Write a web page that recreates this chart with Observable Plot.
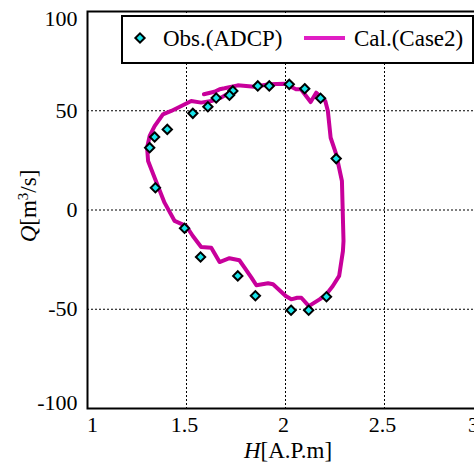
<!DOCTYPE html>
<html>
<head>
<meta charset="utf-8">
<script src="https://cdn.jsdelivr.net/npm/d3@7"></script>
<script src="https://cdn.jsdelivr.net/npm/@observablehq/plot@0.6"></script>
<style>
  html, body { margin: 0; padding: 0; background: white; overflow: hidden; }
  #chart { width: 474px; height: 466px; overflow: hidden; }
  #chart svg, #chart svg text { font-family: "Liberation Serif", "Times New Roman", serif !important; }
</style>
</head>
<body>
<div id="chart"></div>
<script>
// Observed (ADCP) points: water level H [A.P.m], discharge Q [m3/s]
const obsH = [1.314, 1.339, 1.403, 1.343, 1.490, 1.571, 1.759, 1.848, 2.028, 2.117, 2.207,
              2.256, 2.177, 2.097, 2.019, 1.918, 1.860, 1.734, 1.717, 1.650, 1.608, 1.532];
const obsQ = [31.4, 36.8, 40.6, 11.2, -9.2, -23.7, -33.2, -43.2, -50.5, -50.5, -43.7,
              25.9, 56.3, 61.1, 63.3, 62.5, 62.5, 60.0, 57.8, 56.4, 52.0, 48.7];

// Calculated (Case2) loop, in time order
const calH = [1.588, 1.641, 1.667, 1.692, 1.759, 1.801, 1.843, 1.917, 1.996, 2.053, 2.078,
              2.127, 2.155, 2.201, 2.214, 2.228, 2.256, 2.285, 2.293, 2.290, 2.271, 2.239,
              2.206, 2.172, 2.118, 2.080, 2.059, 2.029, 2.001, 1.937, 1.912, 1.853, 1.828,
              1.794, 1.767, 1.717, 1.667, 1.625, 1.574, 1.532, 1.499, 1.440, 1.389, 1.339,
              1.306, 1.301, 1.314, 1.339, 1.381, 1.423, 1.474, 1.524, 1.574, 1.625, 1.675, 1.725];
const calQ = [58.3, 59.6, 60.8, 61.3, 62.8, 62.5, 62.1, 63.3, 63.6, 60.8, 60.8,
              54.4, 59.1, 54.9, 49.9, 36.4, 28.1, 14.6, -15.6, -20.7, -33.2, -38.3,
              -42.5, -45.0, -48.4, -44.2, -44.2, -45.0, -43.3, -37.4, -36.9, -37.9, -34.1,
              -29.1, -25.3, -24.3, -26.2, -19.0, -18.6, -13.1, -8.1, -5.5, 3.7, 16.3,
              24.7, 31.4, 37.3, 42.3, 48.2, 49.9, 52.4, 54.9, 54.1, 54.9, 56.6, 59.6];

const xGrid = [1.5, 2, 2.5];
const yGrid = [-50, 0, 50];
const xTickMid = [1.5, 2, 2.5];
const yTickMid = [-50, 0, 50];

const seriesNames = ["Obs.(ADCP)", "Cal.(Case2)"];
const obsFill = "#18e4ea";
const calColor = "#c8009b";

const obs = obsH.map((h, i) => ({H: h, Q: obsQ[i]}));
const cal = calH.map((h, i) => ({H: h, Q: calQ[i]}));

const tickCommon = {tickSize: 0, label: null, tickFormat: d => String(d), fontSize: 22};

const plot = Plot.plot({
  width: 474,
  height: 466,
  marginLeft: 87,
  marginRight: -9,
  marginTop: 11,
  marginBottom: 58,
  style: {fontSize: "22px", color: "black", background: "white", overflow: "hidden"},
  x: {domain: [1, 3]},
  y: {domain: [-100, 100]},
  marks: [
    Plot.gridX(xGrid, {stroke: "black", strokeOpacity: 1, strokeWidth: 1, strokeDasharray: "2,2"}),
    Plot.gridY(yGrid, {stroke: "black", strokeOpacity: 1, strokeWidth: 1, strokeDasharray: "2,2"}),
    Plot.axisX([1], {...tickCommon, tickPadding: 8, dx: 5}),
    Plot.axisX(xTickMid, {...tickCommon, tickPadding: 8, dx: -2}),
    Plot.axisX([3], {...tickCommon, tickPadding: 8, dx: -10}),
    Plot.axisY(yTickMid, {...tickCommon, tickPadding: 10}),
    Plot.axisY([100], {...tickCommon, tickPadding: 10, dy: 7}),
    Plot.axisY([-100], {...tickCommon, tickPadding: 10, dy: -6}),
    Plot.line(cal, {x: "H", y: "Q", stroke: calColor, strokeWidth: 4, strokeLinejoin: "round"}),
    Plot.dot(obs, {x: "H", y: "Q", symbol: "diamond2", r: 4.2, fill: obsFill, stroke: "black", strokeWidth: 2}),
    Plot.frame({stroke: "black", strokeWidth: 2})
  ]
});

document.getElementById("chart").appendChild(plot);

// Legend, axis titles (overlaid in pixel space)
const svg = d3.select(plot);
const leg = svg.append("g").attr("text-anchor", "start");
leg.append("rect").attr("x", 122).attr("y", 16).attr("width", 351).attr("height", 47)
  .attr("fill", "white").attr("stroke", "black").attr("stroke-width", 2);
leg.append("path").attr("d", d3.symbol(d3.symbolDiamond2, 4.2 * 4.2 * Math.PI)())
  .attr("transform", "translate(140,38)").attr("fill", obsFill).attr("stroke", "black").attr("stroke-width", 2);
leg.append("text").attr("x", 163).attr("y", 46).attr("font-size", 23).attr("text-anchor", "start").text(seriesNames[0]);
leg.append("line").attr("x1", 304).attr("x2", 345).attr("y1", 38).attr("y2", 38)
  .attr("stroke", "#e01ec4").attr("stroke-width", 4);
leg.append("text").attr("x", 354).attr("y", 46).attr("font-size", 23).attr("text-anchor", "start").text(seriesNames[1]);

const xl = svg.append("text").attr("x", 288).attr("y", 458).attr("text-anchor", "middle").attr("font-size", 23);
xl.append("tspan").attr("font-style", "italic").text("H");
xl.append("tspan").text("[A.P.m]");

const yl = svg.append("text").attr("transform", "translate(36,206) rotate(-90)").attr("text-anchor", "middle").attr("font-size", 23);
yl.append("tspan").attr("font-style", "italic").text("Q");
yl.append("tspan").text("[m");
yl.append("tspan").attr("font-size", 15).attr("dy", -8).text("3");
yl.append("tspan").attr("dy", 8).text("/s]");
</script>
</body>
</html>
